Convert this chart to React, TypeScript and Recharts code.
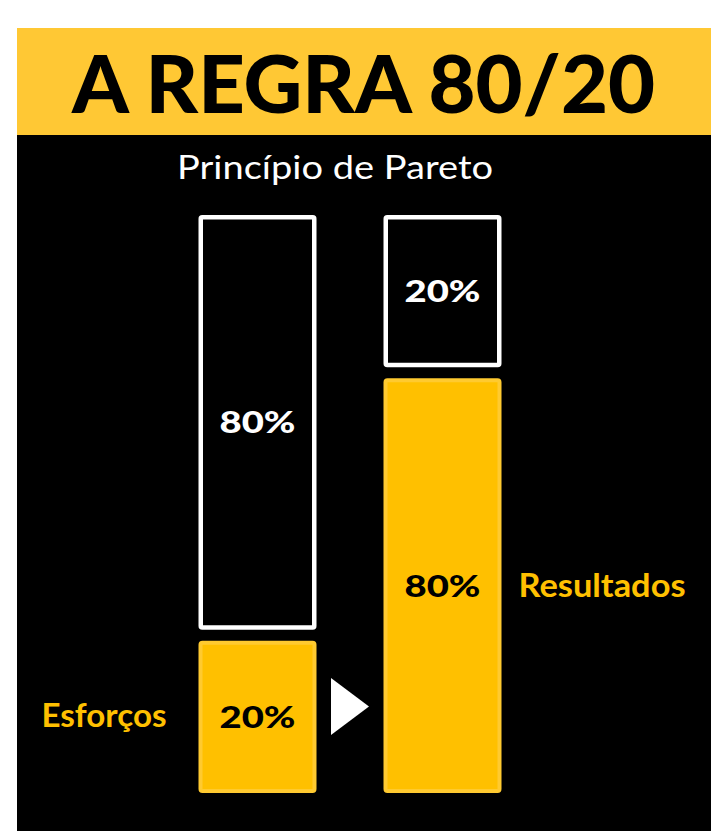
import { BarChart, Bar, XAxis, YAxis, LabelList } from "recharts";

// drawn share of each column (read off the picture, not to scale with the labels)
const categories = ["Esforços", "Resultados"];
const yellowShare = [27.3, 72.7];
const outlineShare = [72.7, 27.3];
const yellowLabels = ["20%", "80%"];
const outlineLabels = ["80%", "20%"];

const title = "A REGRA 80/20";
const subtitle = "Princípio de Pareto";

const data = categories.map((name, i) => ({
  name,
  yellow: yellowShare[i],
  outline: outlineShare[i],
  yellowLabel: yellowLabels[i],
  outlineLabel: outlineLabels[i],
}));

const GAP = 11;
const FONT = "Lato, 'Open Sans', sans-serif";
const YELLOW = "#FFC000";

const YellowShape = (props: any) => {
  const { x, y, width, height } = props;
  return (
    <rect
      x={x + 2}
      y={y + GAP / 2 + 2}
      width={width - 4}
      height={Math.max(0, height - GAP / 2 - 4)}
      rx={2}
      fill={YELLOW}
      stroke="#FFCA30"
      strokeWidth={4}
    />
  );
};

const OutlineShape = (props: any) => {
  const { x, y, width, height } = props;
  return (
    <rect
      x={x + 2.25}
      y={y + 2.25}
      width={width - 4.5}
      height={Math.max(0, height - GAP / 2 - 4.5)}
      rx={1.5}
      fill="#000"
      stroke="#fff"
      strokeWidth={4.5}
    />
  );
};

const pctStyle = {
  fontFamily: FONT,
  fontWeight: 900,
  fontSize: 31,
};

const YellowLabel = (props: any) => {
  const { x, y, width, height, value } = props;
  const cy = y + (height + GAP / 2) / 2;
  return (
    <text
      x={x + width / 2}
      y={cy + 11}
      textAnchor="middle"
      style={pctStyle}
      fill="#000"
      textLength={76}
      lengthAdjust="spacingAndGlyphs"
    >
      {value}
    </text>
  );
};

const OutlineLabel = (props: any) => {
  const { x, y, width, height, value } = props;
  const cy = y + (height - GAP / 2) / 2;
  return (
    <text
      x={x + width / 2}
      y={cy + 11}
      textAnchor="middle"
      style={pctStyle}
      fill="#fff"
      textLength={76}
      lengthAdjust="spacingAndGlyphs"
    >
      {value}
    </text>
  );
};

// category names sit beside the yellow part of each column
const CategoryLabel = (props: any) => {
  const { x, y, width, height, value, index } = props;
  const cy = y + (height + GAP / 2) / 2;
  const left = index === 0;
  return (
    <text
      x={left ? x - 157 : x + width + 17}
      y={cy + (left ? 10.5 : 11.5)}
      textAnchor="start"
      fontFamily={FONT}
      fontWeight={700}
      fontSize={left ? 32 : 33}
      fill={YELLOW}
      textLength={left ? 125 : 167}
      lengthAdjust="spacingAndGlyphs"
    >
      {value}
    </text>
  );
};

export default function App() {
  return (
    <div
      style={{
        position: "absolute",
        left: 0,
        top: 0,
        width: 711,
        height: 831,
        background: "#fff",
        overflow: "hidden",
      }}
    >
      <div
        style={{
          position: "absolute",
          left: 17,
          top: 28,
          width: 694,
          height: 107,
          background: "#FFC834",
        }}
      />
      <div
        style={{
          position: "absolute",
          left: 17,
          top: 135,
          width: 694,
          height: 696,
          background: "#000",
        }}
      />

      <svg
        width={711}
        height={831}
        style={{ position: "absolute", left: 0, top: 0 }}
      >
        <text
          x={363.5}
          y={113}
          textAnchor="middle"
          fontFamily={FONT}
          fontWeight={900}
          fontSize={80}
          fill="#000"
          textLength={583}
          lengthAdjust="spacingAndGlyphs"
        >
          {title}
        </text>
        <text
          x={335}
          y={179}
          textAnchor="middle"
          fontFamily={FONT}
          fontWeight={400}
          fontSize={33}
          fill="#fff"
          textLength={316}
          lengthAdjust="spacingAndGlyphs"
        >
          {subtitle}
        </text>
        <polygon points="331,678 369,706.5 331,735" fill="#fff" />
      </svg>

      <div style={{ position: "absolute", left: 0, top: 0 }}>
        <BarChart
          width={711}
          height={831}
          data={data}
          barSize={118}
          margin={{ top: 215, right: 176.5, bottom: 38, left: 164.5 }}
        >
          <XAxis dataKey="name" hide />
          <YAxis domain={[0, 100]} hide />
          <Bar
            dataKey="yellow"
            stackId="a"
            shape={YellowShape}
            isAnimationActive={false}
          >
            <LabelList dataKey="yellowLabel" content={YellowLabel} />
            <LabelList dataKey="name" content={CategoryLabel} />
          </Bar>
          <Bar
            dataKey="outline"
            stackId="a"
            shape={OutlineShape}
            isAnimationActive={false}
          >
            <LabelList dataKey="outlineLabel" content={OutlineLabel} />
          </Bar>
        </BarChart>
      </div>
    </div>
  );
}
